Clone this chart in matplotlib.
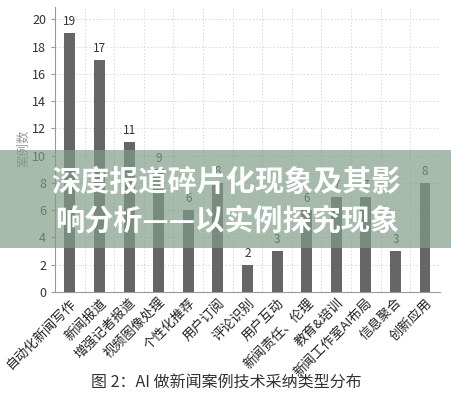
import matplotlib
matplotlib.use("Agg")
import matplotlib.pyplot as plt
from matplotlib.patches import Rectangle

plt.rcParams['font.family'] = ['Noto Sans CJK SC', 'DejaVu Sans']

categories = ["自动化新闻写作", "新闻报道", "增强记者报道", "视频图像处理", "个性化推荐",
              "用户订阅", "评论识别", "用户互动", "新闻责任、伦理", "教育&培训",
              "新闻工作室AI布局", "信息聚合", "创新应用"]
values = [19, 17, 11, 9, 6, 8, 2, 3, 6, 7, 7, 3, 8]
yticks = [0, 2, 4, 6, 8, 10, 12, 14, 16, 18, 20]
ylabel = "案例数"
caption = "图 2：AI 做新闻案例技术采纳类型分布"
overlay_lines = ["深度报道碎片化现象及其影", "响分析——以实例探究现象"]

fig = plt.figure(figsize=(4.52, 4.0), dpi=100)
ax = fig.add_axes([0.122, 0.27, 0.851, 0.7125])
x = list(range(len(categories)))
ax.bar(x, values, width=0.37, color='#666666', zorder=3)
for xi, v in zip(x, values):
    ax.text(xi, v + 0.35, str(v), ha='center', va='bottom', fontsize=8.5, color='#333333', zorder=4)

ax.set_xlim(-0.5, len(categories) - 0.5)
ax.set_ylim(0, 20.9)
ax.set_yticks(yticks)
ax.set_xticks(x)
ax.set_xticklabels(categories, rotation=45, ha='right', rotation_mode='anchor', fontsize=9.5, color='#222222')
ax.set_xticks([i + 0.5 for i in x[:-1]], minor=True)
ax.tick_params(axis='y', labelsize=9, colors='#333333', length=3, color='#999999')
ax.tick_params(axis='x', which='major', length=0, pad=3)
ax.tick_params(axis='x', which='minor', length=0)
ax.grid(axis='y', which='major', linestyle=(0, (1.5, 2)), color='#d8d8d8', linewidth=0.7, zorder=0)
ax.grid(axis='x', which='minor', linestyle=(0, (1.5, 2)), color='#d8d8d8', linewidth=0.7, zorder=0)
for s in ['top', 'right']:
    ax.spines[s].set_visible(False)
for s in ['left', 'bottom']:
    ax.spines[s].set_color('#999999')
    ax.spines[s].set_linewidth(0.8)
ax.set_ylabel(ylabel, fontsize=9, color='#999999')
ax.yaxis.set_label_coords(-0.065, 0.505)

fig.text(0.5, 0.043, caption, ha='center', va='center', fontsize=11.5, color='#333333')

band = Rectangle((0, 1 - 248 / 400), 1, 98 / 400, transform=fig.transFigure,
                 facecolor='#809d89', alpha=0.69, edgecolor='none', zorder=10)
fig.patches.append(band)
fig.text(0.5, 1 - 182 / 400, overlay_lines[0], ha='center', va='center', fontsize=21,
         fontweight='bold', color='white', zorder=11)
fig.text(0.503, 1 - 221 / 400, overlay_lines[1], ha='center', va='center', fontsize=21,
         fontweight='bold', color='white', zorder=11)

fig.savefig('out.png', dpi=100)
